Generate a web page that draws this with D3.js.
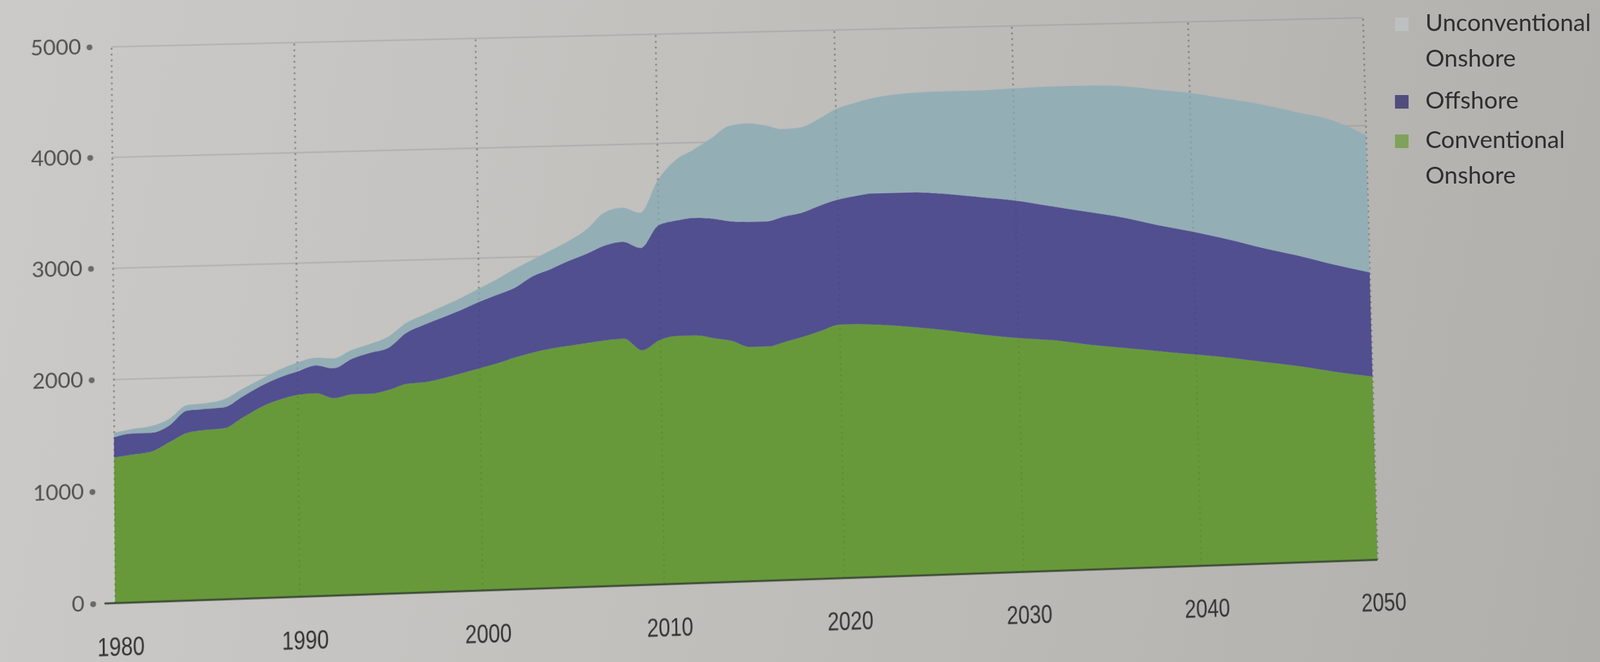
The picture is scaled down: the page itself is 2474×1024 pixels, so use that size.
<!DOCTYPE html>
<html>
<head>
<meta charset="utf-8">
<script src="https://cdn.jsdelivr.net/npm/d3@7"></script>
<style>
  html, body { margin: 0; padding: 0; width: 2474px; height: 1024px; overflow: hidden; }
  body {
    position: relative;
    background: linear-gradient(100deg, #cbcac8 0%, #c3c2bf 35%, #b9b8b5 70%, #b0afac 100%);
  }
  #chart { position: absolute; left: 0; top: 0; transform-origin: 0 0; overflow: visible; }
  #legend { position: absolute; left: 0; top: 0; }
</style>
</head>
<body>
<svg id="chart"></svg>
<svg id="legend" width="2474" height="1024"></svg>
<script>
// ---------------- DATA ----------------
const years = [
  1980,1981,1982,1983,1984,1985,1986,1987,1988,1989,
  1990,1991,1992,1993,1994,1995,1996,1997,1998,1999,
  2000,2001,2002,2003,2004,2005,2006,2007,2008,2009,
  2010,2011,2012,2013,2014,2015,2016,2017,2018,2019,
  2020,2021,2022,
  2024,2026,2028,2030,2032,2034,2036,2038,2040,2042,2044,2046,2048,2050
];
const conventionalOnshore = [
  1300,1320,1340,1420,1500,1520,1530,1620,1710,1770,
  1810,1820,1770,1800,1800,1830,1880,1890,1920,1960,
  2000,2040,2090,2130,2160,2180,2200,2220,2230,2120,
  2210,2240,2240,2210,2180,2120,2120,2160,2200,2250,
  2300,2300,2290,
  2260,2220,2170,2130,2100,2050,2010,1970,1930,1890,1840,1790,1730,1680
];
const offshore = [
  180,190,170,150,200,190,190,190,190,200,
  210,250,270,320,370,380,460,520,550,570,
  600,620,630,690,720,770,810,860,880,930,
  1040,1050,1070,1090,1090,1140,1140,1140,1130,1140,
  1140,1170,1200,
  1230,1250,1260,1260,1230,1220,1200,1160,1130,1090,1050,1020,990,960
];
const unconventionalOnshore = [
  40,40,60,60,50,50,70,70,60,70,
  80,70,90,80,80,100,90,90,100,110,
  120,140,170,150,170,180,220,300,310,320,
  410,550,620,730,870,900,880,800,780,790,
  830,850,870,
  910,940,980,1030,1100,1160,1210,1250,1280,1300,1330,1330,1340,1270
];
const seriesKeys = ["conventional", "offshore", "unconventional"];
const legendLabels = [
  ["Unconventional", "Onshore"],
  ["Offshore"],
  ["Conventional", "Onshore"]
];
const legendKeys = ["unconventional", "offshore", "conventional"];
const yTicks = [0, 1000, 2000, 3000, 4000, 5000];
const xTicks = [1980, 1990, 2000, 2010, 2020, 2030, 2040, 2050];

// ---------------- STYLE ----------------
const colors = {
  conventional: "#67993a",
  offshore: "#514f8f",
  unconventional: "#94aeb6"
};
const legendColors = {
  conventional: "#7fa25a",
  offshore: "#504d7c",
  unconventional: "#bcc0c1"
};

// ---------------- LAYOUT ----------------
const mL = 200, mT = 40, W = 1950, H = 860, mR = 60, mB = 150;

const rows = years.map((yr, i) => ({
  year: yr,
  conventional: conventionalOnshore[i],
  offshore: offshore[i],
  unconventional: unconventionalOnshore[i]
}));

const x = d3.scaleLinear().domain([1980, 2050]).range([0, W]);
const y = d3.scaleLinear().domain([0, 5000]).range([H, 0]);

const layers = d3.stack().keys(seriesKeys)(rows);

const svg = d3.select("#chart")
  .attr("width", mL + W + mR)
  .attr("height", mT + H + mB);

const g = svg.append("g").attr("transform", `translate(${mL},${mT})`);

// horizontal gridlines (behind areas)
const gy = g.append("g").call(
  d3.axisLeft(y).tickValues(yTicks.filter(v => v > 0)).tickSize(-W).tickFormat(""));
gy.select(".domain").remove();
gy.selectAll(".tick line").attr("stroke", "rgba(120,120,120,0.3)").attr("stroke-width", 2);

// vertical dotted gridlines (behind areas)
const gx = g.append("g").attr("transform", `translate(0,${H})`).call(
  d3.axisBottom(x).tickValues(xTicks).tickSize(-H).tickFormat(""));
gx.select(".domain").remove();
gx.selectAll(".tick line")
  .attr("stroke", "rgba(80,80,80,0.4)")
  .attr("stroke-width", 2.5)
  .attr("stroke-dasharray", "3,6");

const area = d3.area()
  .x(d => x(d.data.year))
  .y0(d => y(d[0]))
  .y1(d => y(d[1]))
  .curve(d3.curveMonotoneX);

g.selectAll("path.layer")
  .data(layers)
  .join("path")
  .attr("class", "layer")
  .attr("fill", d => colors[d.key])
  .attr("d", area);

// faint dotted gridlines over the areas
const gx2 = g.append("g").attr("transform", `translate(0,${H})`).call(
  d3.axisBottom(x).tickValues(xTicks).tickSize(-H).tickFormat(""));
gx2.select(".domain").remove();
gx2.selectAll(".tick line")
  .attr("stroke", "rgba(40,40,40,0.12)")
  .attr("stroke-width", 2.5)
  .attr("stroke-dasharray", "3,6");

// x axis labels and baseline
const ax = g.append("g").attr("transform", `translate(0,${H})`).call(
  d3.axisBottom(x).tickValues(xTicks).tickSize(0).tickPadding(52).tickFormat(d3.format("d")));
ax.select(".domain").remove();
ax.selectAll("text")
  .attr("font-family", "'Liberation Sans', Arial, sans-serif")
  .attr("font-size", 40)
  .attr("fill", "#333")
  .attr("dx", 10)
  .attr("transform", "scale(0.8,1)");
g.append("line")
  .attr("x1", -16).attr("x2", W)
  .attr("y1", H).attr("y2", H)
  .attr("stroke", "#3c4a34").attr("stroke-width", 3);

// y axis labels with dots
const ay = g.append("g").call(
  d3.axisLeft(y).tickValues(yTicks).tickSize(0).tickPadding(46).tickFormat(d3.format("d")));
ay.select(".domain").remove();
ay.selectAll("text")
  .attr("font-family", "Lato, 'Open Sans', sans-serif")
  .attr("font-size", 33)
  .attr("fill", "#4f4f4f");
ay.selectAll(".tick").append("circle")
  .attr("cx", -33).attr("cy", 0).attr("r", 4.5).attr("fill", "#6a6a6a");

// ---------------- PERSPECTIVE (photo tilt) ----------------
function solve(A, b) {
  const n = b.length;
  const M = A.map((r, i) => [...r, b[i]]);
  for (let c = 0; c < n; c++) {
    let p = c;
    for (let r = c + 1; r < n; r++) if (Math.abs(M[r][c]) > Math.abs(M[p][c])) p = r;
    [M[c], M[p]] = [M[p], M[c]];
    for (let r = 0; r < n; r++) {
      if (r === c) continue;
      const f = M[r][c] / M[c][c];
      for (let k = c; k <= n; k++) M[r][k] -= f * M[c][k];
    }
  }
  return M.map((r, i) => r[n] / r[i]);
}
const src = [[mL, mT], [mL + W, mT], [mL + W, mT + H], [mL, mT + H]];
const dst = [[172, 72], [2107, 27], [2130, 866], [178, 933]];
const A = [], b = [];
src.forEach(([sx, sy], i) => {
  const [dx, dy] = dst[i];
  A.push([sx, sy, 1, 0, 0, 0, -dx * sx, -dx * sy]); b.push(dx);
  A.push([0, 0, 0, sx, sy, 1, -dy * sx, -dy * sy]); b.push(dy);
});
const h = solve(A, b);
document.getElementById("chart").style.transform =
  `matrix3d(${h[0]},${h[3]},0,${h[6]},${h[1]},${h[4]},0,${h[7]},0,0,1,0,${h[2]},${h[5]},0,1)`;

// ---------------- LEGEND ----------------
const leg = d3.select("#legend");
const legendBase = [48, 168, 229];
legendKeys.forEach((k, i) => {
  const base = legendBase[i];
  leg.append("rect")
    .attr("x", 2157).attr("y", base - 21)
    .attr("width", 21).attr("height", 21)
    .attr("fill", legendColors[k]);
  legendLabels[i].forEach((t, j) => {
    leg.append("text")
      .attr("x", 2204).attr("y", base + j * 55)
      .attr("font-family", "Lato, 'Open Sans', sans-serif")
      .attr("font-size", 37)
      .attr("fill", "#2f2f2f")
      .text(t);
  });
});
</script>
</body>
</html>
